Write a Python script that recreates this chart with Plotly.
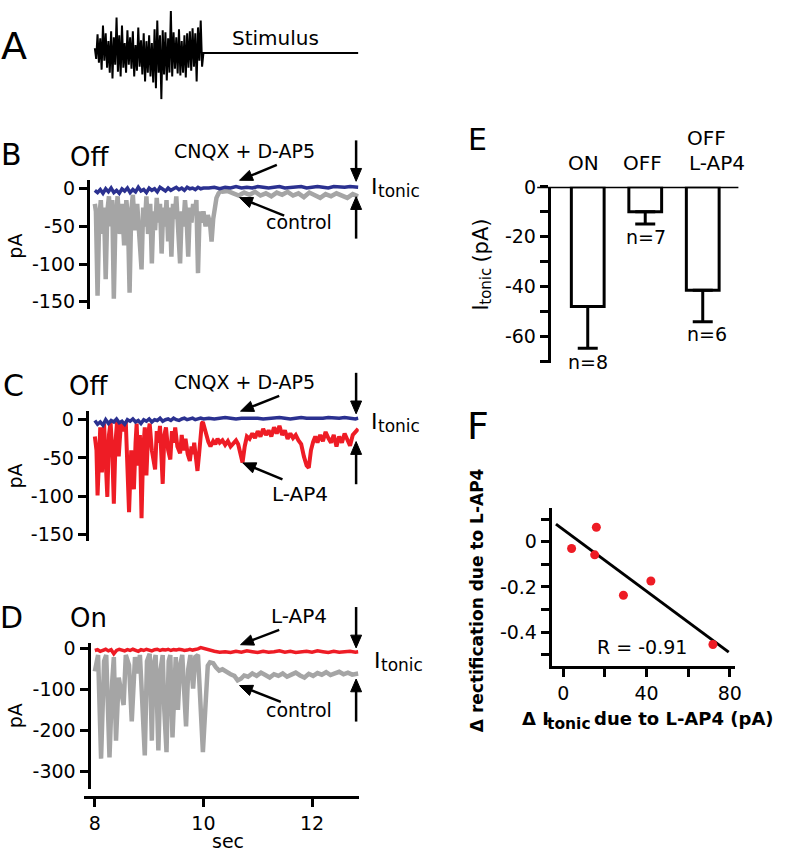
import numpy as np
import plotly.graph_objects as go

W, H = 789, 853
FONT = "DejaVu Sans"
GRAY = "#a5a5a5"
BLUE = "#2b3190"
RED = "#ee1c25"

# ---- panel A: stimulus (arbitrary units) ----
stim_t = [8.000, 8.025, 8.050, 8.075, 8.100, 8.125, 8.150, 8.175, 8.200, 8.225,
          8.250, 8.275, 8.300, 8.325, 8.350, 8.375, 8.400, 8.425, 8.450, 8.475,
          8.500, 8.525, 8.550, 8.575, 8.600, 8.625, 8.650, 8.675, 8.700, 8.725,
          8.750, 8.775, 8.800, 8.825, 8.850, 8.875, 8.900, 8.925, 8.950, 8.975,
          9.000, 9.025, 9.050, 9.075, 9.100, 9.125, 9.150, 9.175, 9.200, 9.225,
          9.250, 9.275, 9.300, 9.325, 9.350, 9.375, 9.400, 9.425, 9.450, 9.475,
          9.500, 9.525, 9.550, 9.575, 9.600, 9.625, 9.650, 9.675, 9.700, 9.725,
          9.750, 9.775, 9.800, 9.825, 9.850, 9.875, 9.900, 9.925, 9.950, 9.975,
          10.000, 12.850]
stim = [5, -6, 19, -10, 15, -17, 28, -8, 20, -15,
        12, -20, 22, -26, 16, -12, 36, -19, 18, -24,
        28, -15, 10, -20, 23, -12, 16, -16, 22, -24,
        8, -18, 26, -14, 13, -22, 20, -29, 12, -20,
        18, -24, 10, -30, 24, -36, 33, -20, 18, -47,
        23, -22, 21, -28, 15, -20, 43, -24, 21, -16,
        16, -21, 24, -23, 12, -20, 18, -25, 20, -15,
        22, -18, 25, -14, 20, -29, 26, -8, 33, -14,
        0, 0]

# ---- shared time base for the small-amplitude traces ----
t_base = [8.0, 8.05, 8.1, 8.15, 8.2, 8.25, 8.3, 8.35, 8.4, 8.45,
          8.5, 8.55, 8.6, 8.65, 8.7, 8.75, 8.8, 8.85, 8.9, 8.95,
          9.0, 9.05, 9.1, 9.15, 9.2, 9.25, 9.3, 9.35, 9.4, 9.45,
          9.5, 9.55, 9.6, 9.65, 9.7, 9.75, 9.8, 9.85, 9.9, 9.95,
          10.0, 10.1, 10.2, 10.3, 10.4, 10.5, 10.6, 10.7, 10.8, 10.9,
          11.0, 11.1, 11.2, 11.3, 11.4, 11.5, 11.6, 11.7, 11.8, 11.9,
          12.0, 12.1, 12.2, 12.3, 12.4, 12.5, 12.6, 12.7, 12.8, 12.85]

# ---- panel B (Off) ----
b_cnqx = [-2, -5, -1, -6, 0, -4, 1, -5, -2, -6, 0, -3, 1, -5, -1, -4, 2, -3, -1, -5,
          1, -2, 0, -4, 2, -1, -3, 1, -2, 0, 2, -1, 1, -2, 2, 0, 1, -1, 2, 0, 1,
          1, 2, 0, 2, 1, 3, 1, 2, 1, 3, 2, 1, 2, 3, 1, 2, 2, 3, 1, 2, 3, 2, 1, 3,
          2, 2, 3, 2, 2]
b_ctrl_t = [8.00, 8.02, 8.05, 8.08, 8.11, 8.14, 8.17, 8.20, 8.23, 8.26,
            8.29, 8.32, 8.35, 8.38, 8.42, 8.46, 8.50, 8.54, 8.58, 8.61,
            8.64, 8.67, 8.70, 8.74, 8.78, 8.82, 8.86, 8.89, 8.92, 8.95,
            8.98, 9.02, 9.05, 9.08, 9.11, 9.14, 9.17, 9.20, 9.23, 9.26,
            9.29, 9.32, 9.35, 9.38, 9.41, 9.44, 9.47, 9.50, 9.53, 9.57,
            9.60, 9.63, 9.66, 9.69, 9.72, 9.75, 9.78, 9.81, 9.84, 9.87,
            9.90, 9.93, 9.96, 10.00, 10.04, 10.08, 10.12, 10.15, 10.18, 10.21,
            10.24, 10.28, 10.32, 10.35, 10.45, 10.55, 10.65, 10.75, 10.85, 10.95,
            11.05, 11.15, 11.25, 11.35, 11.45, 11.55, 11.65, 11.75, 11.85, 11.95,
            12.05, 12.15, 12.25, 12.35, 12.45, 12.55, 12.65, 12.75, 12.85]
b_ctrl = [-20, -30, -142, -40, -15, -60, -25, -120, -30, -10,
          -50, -15, -146, -40, -10, -60, -20, -75, -15, -40,
          -138, -30, -8, -55, -20, -70, -107, -25, -50, -10,
          -60, -20, -99, -30, -55, -12, -45, -20, -86, -25,
          -50, -15, -70, -25, -90, -20, -40, -10, -60, -99,
          -30, -50, -15, -40, -90, -25, -45, -20, -35, -15,
          -112, -30, -45, -30, -50, -35, -45, -70, -40, -25,
          -12, -6, -3, -4, -3, -6, -9, -5, -8, -4,
          -9, -6, -10, -5, -8, -4, -9, -6, -11, -5,
          -8, -12, -7, -10, -6, -9, -12, -7, -10]

# ---- panel C (Off, L-AP4) ----
c_cnqx = [-1, -6, -3, -7, 0, -5, -1, -3, 1, -4, -2, -6, 0, -2, 1, -3, -1, -5, 0, -2,
          1, -3, 0, -1, 2, -2, 0, 1, -1, 2, 0, -1, 1, 2, 0, 1, 2, 0, 1, 2, 1,
          2, 1, 2, 3, 2, 1, 2, 2, 3, 2, 1, 2, 2, 3, 2, 1, 2, 3, 2, 2, 1, 2, 3, 2,
          2, 3, 2, 1, 2]
c_lap4_t = [8.00, 8.03, 8.05, 8.08, 8.10, 8.13, 8.17, 8.23, 8.26, 8.29,
            8.32, 8.35, 8.38, 8.41, 8.44, 8.48, 8.52, 8.57, 8.63, 8.67,
            8.72, 8.75, 8.77, 8.80, 8.83, 8.86, 8.89, 8.92, 8.95, 8.98,
            9.01, 9.05, 9.11, 9.14, 9.17, 9.20, 9.25, 9.28, 9.31, 9.35,
            9.39, 9.42, 9.45, 9.48, 9.52, 9.57, 9.60, 9.63, 9.67, 9.71,
            9.75, 9.78, 9.81, 9.83, 9.86, 9.89, 9.92, 9.95, 9.97, 9.99,
            10.03, 10.09, 10.13, 10.18, 10.22, 10.26, 10.30, 10.35, 10.40, 10.45,
            10.50, 10.55, 10.60, 10.64, 10.67, 10.70, 10.72, 10.76, 10.80, 10.85,
            10.90, 10.95, 11.00, 11.05, 11.10, 11.15, 11.20, 11.25, 11.30, 11.35,
            11.40, 11.45, 11.50, 11.55, 11.60, 11.65, 11.70, 11.75, 11.80, 11.85,
            11.90, 11.94, 11.98, 12.02, 12.06, 12.10, 12.15, 12.20, 12.25, 12.30,
            12.35, 12.40, 12.45, 12.50, 12.55, 12.60, 12.65, 12.70, 12.75, 12.80,
            12.85]
c_lap4 = [-22, -40, -99, -30, -10, -69, -5, -101, -20, -3,
          -40, -110, -30, -2, -48, -5, -15, -3, -121, -40,
          -91, -30, -5, -60, -20, -129, -40, -10, -73, -20,
          -5, -40, -65, -15, -30, -8, -84, -20, -10, -40,
          -52, -15, -30, -10, -35, -44, -20, -40, -25, -45,
          -54, -35, -45, -30, -50, -67, -45, -20, -5, -3,
          -15, -29, -35, -28, -32, -25, -30, -27, -33, -28,
          -35, -30, -27, -32, -40, -52, -56, -35, -22, -25,
          -18, -24, -15, -22, -12, -20, -14, -22, -10, -18,
          -8, -20, -14, -25, -18, -24, -20, -27, -32, -48,
          -60, -63, -40, -29, -22, -30, -20, -28, -16, -24,
          -30, -20, -35, -22, -30, -18, -26, -34, -20, -15,
          -12]

# ---- panel D (On) ----
d_lap4 = [-4, -2, -6, -3, -1, -5, -2, -12, -4, -1, -3, -5, -2, -4, -1, -3, -6, -2, -4, -1,
          -3, -5, -2, -1, -4, -2, -3, -1, -4, -2, -3, -1, -2, -4, -3, -1, -3, -2, 0, 3, 1,
          -3, -6, -8, -7, -9, -6, -8, -5, -7, -9, -6, -8, -7, -5, -8, -6, -9, -7, -6, -8,
          -5, -7, -9, -6, -8, -7, -6, -8, -7]
d_ctrl_t = [8.00, 8.06, 8.115, 8.17, 8.21, 8.27, 8.32, 8.35, 8.39, 8.44,
            8.48, 8.53, 8.57, 8.63, 8.68, 8.74, 8.79, 8.83, 8.87, 8.92,
            8.96, 9.01, 9.05, 9.08, 9.12, 9.17, 9.21, 9.25, 9.28, 9.32,
            9.36, 9.39, 9.43, 9.47, 9.49, 9.53, 9.57, 9.61, 9.65, 9.68,
            9.72, 9.76, 9.81, 9.85, 9.90, 9.94, 9.99, 10.02, 10.05, 10.08,
            10.12, 10.18, 10.23, 10.29, 10.35, 10.42, 10.50, 10.57, 10.63, 10.69,
            10.75, 10.82, 10.90, 10.98, 11.06, 11.14, 11.22, 11.30, 11.38, 11.46,
            11.54, 11.62, 11.70, 11.78, 11.86, 11.94, 12.02, 12.10, 12.18, 12.26,
            12.34, 12.42, 12.50, 12.58, 12.66, 12.74, 12.85]
d_ctrl = [-55, -15, -268, -30, -15, -265, -80, -20, -224, -70,
          -100, -137, -15, -40, -177, -20, -60, -15, -120, -260,
          -30, -12, -224, -40, -15, -248, -50, -15, -150, -252,
          -30, -15, -216, -60, -20, -149, -40, -15, -120, -189,
          -50, -15, -97, -20, -15, -120, -252, -180, -100, -41,
          -33, -35, -45, -53, -50, -57, -62, -66, -77, -73,
          -65, -68, -60, -66, -58, -64, -70, -62, -66, -60,
          -68, -63, -58, -65, -70, -61, -66, -59, -63, -57,
          -64, -60, -56, -62, -58, -63, -60]

# ---- panel E ----
e_pos = [0, 1, 2]
e_mean = [-48.1, -10.0, -41.6]
e_sem = [16.8, 4.9, 12.6]
e_n = ["n=8", "n=7", "n=6"]

# ---- panel F ----
f_x = [4.0, 15.9, 15.1, 28.9, 42.1, 71.9]
f_y = [-0.030, 0.064, -0.058, -0.237, -0.174, -0.455]
fit_extent = [-3.5, 79.5]


def px_x(p):
    return p / W


def px_y(p):
    return 1 - p / H


T_DOMAIN = [px_x(85), px_x(362)]
T_RANGE = [7.805, 12.861]

fig = go.Figure()


def line(x, y, ax, color, width):
    fig.add_trace(go.Scatter(x=x, y=y, mode="lines", xaxis="x" + ax, yaxis="y" + ax,
                             line=dict(color=color, width=width), hoverinfo="skip"))


line(stim_t, stim, "", "black", 2)
line(b_ctrl_t, b_ctrl, "2", GRAY, 4.5)
line(t_base, b_cnqx, "2", BLUE, 3.5)
line(c_lap4_t, c_lap4, "3", RED, 4)
line(t_base, c_cnqx, "3", BLUE, 3.5)
line(d_ctrl_t, d_ctrl, "4", GRAY, 4.5)
line(t_base, d_lap4, "4", RED, 3.5)

fig.add_trace(go.Bar(x=e_pos, y=e_mean, width=0.57, xaxis="x5", yaxis="y5",
                     marker=dict(color="white", line=dict(color="black", width=3)),
                     error_y=dict(type="data", symmetric=False, array=[0, 0, 0],
                                  arrayminus=e_sem, color="black", thickness=3, width=10)))

slope, icpt = np.polyfit(f_x, f_y, 1)
fit_y = [slope * v + icpt for v in fit_extent]
fig.add_trace(go.Scatter(x=fit_extent, y=fit_y, mode="lines", xaxis="x6", yaxis="y6",
                         line=dict(color="black", width=3)))
fig.add_trace(go.Scatter(x=f_x, y=f_y, mode="markers", xaxis="x6", yaxis="y6",
                         marker=dict(color=RED, size=9)))

axis_style = dict(showline=True, linewidth=3, linecolor="black", ticks="outside",
                  ticklen=8, tickwidth=3, tickcolor="black", showgrid=False,
                  zeroline=False, tickfont=dict(size=19))


def minor(vals):
    return dict(tickvals=vals, ticks="outside", ticklen=8, tickwidth=3,
                tickcolor="black", showgrid=False)


def ydom(top, bottom):
    return [px_y(bottom), px_y(top)]


b_ticks = [0, -50, -100, -150]
d_ticks = [0, -100, -200, -300]
e_ticks = [0, -20, -40, -60]
f_yticks = [0, -0.2, -0.4]
f_xticks = [0, 40, 80]
layout_axes = dict(
    xaxis=dict(domain=T_DOMAIN, range=T_RANGE, visible=False, anchor="y"),
    yaxis=dict(domain=ydom(0, 90), range=[-47.3, 42.7], visible=False, anchor="x"),
    xaxis2=dict(domain=T_DOMAIN, range=T_RANGE, visible=False, anchor="y2"),
    yaxis2=dict(domain=ydom(171.7, 303), range=[-159.2, 12.1], anchor="free",
                position=px_x(88.7), tickvals=b_ticks, ticktext=[str(v) for v in b_ticks], **axis_style),
    xaxis3=dict(domain=T_DOMAIN, range=T_RANGE, visible=False, anchor="y3"),
    yaxis3=dict(domain=ydom(406.7, 539), range=[-158.1, 12.0], anchor="free",
                position=px_x(87.5), tickvals=b_ticks, ticktext=[str(v) for v in b_ticks], **axis_style),
    xaxis4=dict(domain=T_DOMAIN, range=T_RANGE, anchor="free", position=px_y(800),
                tickvals=[8, 10, 12], ticktext=["8", "10", "12"], **axis_style),
    yaxis4=dict(domain=ydom(643, 792), range=[-342.2, 15.0], anchor="free",
                position=px_x(89.3), tickvals=d_ticks, ticktext=[str(v) for v in d_ticks], **axis_style),
    xaxis5=dict(domain=[px_x(555.7), px_x(745)], range=[-0.643, 2.62], visible=False, anchor="y5"),
    yaxis5=dict(domain=ydom(179, 358.3), range=[-70.8, 0], anchor="x5",
                tickvals=e_ticks, ticktext=[str(v) for v in e_ticks],
                minor=minor([-10, -30, -50, -70]), **axis_style),
    xaxis6=dict(domain=[px_x(556.7), px_x(741.7)], range=[-5.52, 82.57], anchor="y6",
                tickvals=f_xticks, ticktext=[str(v) for v in f_xticks],
                minor=minor([20, 60]), **axis_style),
    yaxis6=dict(domain=ydom(506, 666.7), range=[-0.55, 0.149], anchor="x6",
                tickvals=f_yticks, ticktext=["0", "-0.2", "-0.4"],
                minor=minor([0.1, -0.1, -0.3, -0.5]), **axis_style),
)

ann = []
shapes = [dict(type="line", xref="paper", yref="y5", x0=px_x(542), x1=px_x(745),
               y0=0, y1=0, line=dict(color="black", width=3))]


def label(text, x, y, size, bold=False, angle=0, xanchor="center"):
    if bold:
        text = "<b>" + text + "</b>"
    ann.append(dict(text=text, x=px_x(x), y=px_y(y), xref="paper", yref="paper",
                    showarrow=False, xanchor=xanchor, yanchor="middle", textangle=angle,
                    font=dict(size=size, family=FONT, color="black")))


def arrow(tail, head, head_len=13, half_w=5.5):
    # shaft + filled head, both as layout shapes in page pixels
    dx, dy = head[0] - tail[0], head[1] - tail[1]
    n = (dx * dx + dy * dy) ** 0.5
    ux, uy = dx / n, dy / n
    bx, by = head[0] - ux * head_len, head[1] - uy * head_len
    shapes.append(dict(type="line", xref="paper", yref="paper",
                       x0=px_x(tail[0]), y0=px_y(tail[1]), x1=px_x(bx + ux * 2), y1=px_y(by + uy * 2),
                       line=dict(color="black", width=2.5)))
    p1 = (bx - uy * half_w, by + ux * half_w)
    p2 = (bx + uy * half_w, by - ux * half_w)
    path = "M{:.4f},{:.4f} L{:.4f},{:.4f} L{:.4f},{:.4f} Z".format(
        px_x(head[0]), px_y(head[1]), px_x(p1[0]), px_y(p1[1]), px_x(p2[0]), px_y(p2[1]))
    shapes.append(dict(type="path", xref="paper", yref="paper", path=path,
                       fillcolor="black", line=dict(color="black", width=1)))


def i_tonic(x, y):
    label("I", x, y, 22, xanchor="left")
    label("tonic", x + 7, y + 4.5, 17, xanchor="left")


# panel letters
label("A", 14, 36, 38)
label("B", 12, 146, 30)
label("C", 14, 381, 30)
label("D", 12, 617, 30)
label("E", 482, 131, 30)
label("F", 482, 422, 38)

# panel A
label("Stimulus", 278, 27, 20)

# panel B
label("Off", 90, 149, 26)
label("CNQX + D-AP5", 247, 143, 19)
label("control", 302, 215, 19)
i_tonic(372, 179)
label("pA", 15, 239, 19, angle=-90)
arrow((279.3, 156.7), (241.7, 172.3))
arrow((286.7, 208.3), (241.7, 190))
arrow((359.3, 131.7), (359.3, 173.3))
arrow((359.3, 231.7), (359.3, 189))

# panel C
label("Off", 89, 382, 26)
label("CNQX + D-AP5", 247, 378, 19)
label("L-AP4", 303, 492, 20)
i_tonic(372, 418)
label("pA", 15, 473, 19, angle=-90)
arrow((281.7, 391.7), (242.7, 407.3))
arrow((285, 476.7), (245, 460))
arrow((359.3, 368.3), (359.3, 410))
arrow((359.3, 481.7), (359.3, 438.3))

# panel D
label("On", 89, 618, 26)
label("L-AP4", 302, 616, 20)
label("control", 302, 712, 19)
i_tonic(375, 661)
label("pA", 16, 717, 19, angle=-90)
label("sec", 230, 845, 19)
arrow((281.7, 630), (242.7, 645))
arrow((283.3, 703.3), (241.7, 686.7))
arrow((359.3, 606.7), (359.3, 648.3))
arrow((359.3, 723.3), (359.3, 680))

# panel E
label("ON", 589, 155, 20)
label("OFF", 648, 155, 20)
label("OFF", 713, 129, 20)
label("L-AP4", 723, 155, 20)
label(e_n[0], 593, 357, 19)
label(e_n[1], 652, 230, 19)
label(e_n[2], 713, 329, 19)
label("I", 485, 302, 21, angle=-90)
label("tonic", 490, 280, 15, angle=-90)
label("(pA)", 485, 234, 21, angle=-90)

# panel F
label("R = -0.91", 648, 647, 19)
label("Δ rectification due to L-AP4", 482, 600, 17, bold=True, angle=-90)
label("Δ I", 525, 720, 18, bold=True, xanchor="left")
label("tonic", 550, 726, 15.5, bold=True, xanchor="left")
label("due to L-AP4 (pA)", 597, 720, 18, bold=True, xanchor="left")

fig.update_layout(
    width=W, height=H, margin=dict(l=0, r=0, t=0, b=0),
    paper_bgcolor="white", plot_bgcolor="white", showlegend=False,
    font=dict(family=FONT, color="black"),
    annotations=ann,
    shapes=shapes,
    **layout_axes,
)

fig.write_html("out.html", config={"displayModeBar": False},
               post_script="document.body.style.margin='0';document.body.style.overflow='hidden';")
